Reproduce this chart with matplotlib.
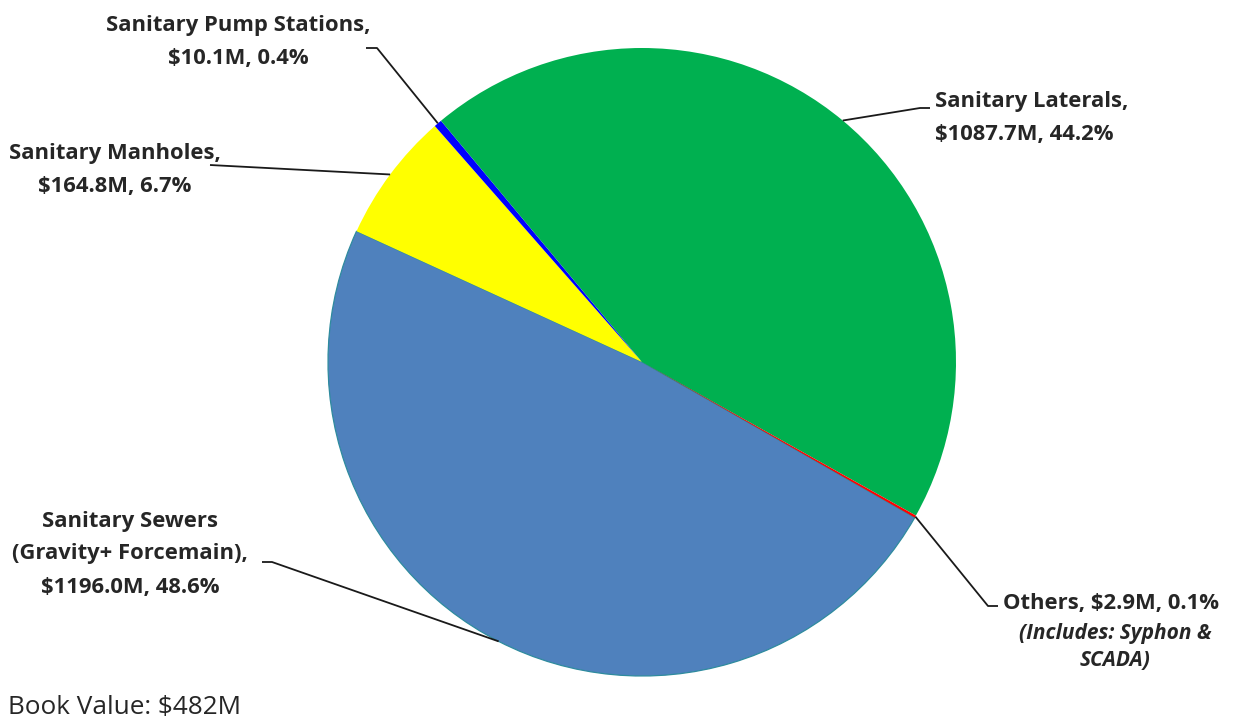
import matplotlib

matplotlib.use("Agg")
import matplotlib.pyplot as plt
import numpy as np

# slices in clockwise order, as drawn
names = ["Sanitary Sewers\n(Gravity+ Forcemain),", "Sanitary Manholes,",
         "Sanitary Pump Stations,", "Sanitary Laterals,", "Others,"]
values_m = [1196.0, 164.8, 10.1, 1087.7, 2.9]
colors = ["#4F81BD", "#FFFF00", "#0000FF", "#00B050", "#FF0000"]
book_value = "Book Value: $482M"
others_note = "(Includes: Syphon &\nSCADA)"

W, H = 1239, 721
CX, CY, R = 642, H - 362, 314
START = 330.3

plt.rcParams["font.family"] = ["Open Sans", "DejaVu Sans"]
fig = plt.figure(figsize=(W / 100, H / 100), dpi=100)
ax = fig.add_axes([0, 0, 1, 1])

explode = [0, 0, 0.015, 0, 0.015]
wedges, _ = ax.pie(values_m, colors=colors, startangle=START, counterclock=False,
                   center=(CX, CY), radius=R, explode=explode, frame=True,
                   wedgeprops=dict(linewidth=0))
wedges[0].set_edgecolor("#2E8B9E")
wedges[0].set_linewidth(0.9)
ax.set_xlim(0, W)
ax.set_ylim(0, H)
ax.set_aspect("equal")
ax.axis("off")

total = sum(values_m)
pct = [v / total * 100 for v in values_m]
labels = [f"{n}\n${v:.1f}M, {p:.1f}%" if i != 4 else f"{n} ${v:.1f}M, {p:.1f}%"
          for i, (n, v, p) in enumerate(zip(names, values_m, pct))]

# layout: elbow point (pixels, y down), stub length, text anchor, alignment
layout = [
    dict(elbow=(272, 562), stub=-10, text=(130, 554), ha="center"),
    dict(elbow=(210, 165), stub=0, text=(115, 170), ha="center"),
    dict(elbow=(377, 48), stub=-11, text=(238, 42), ha="center"),
    dict(elbow=(920, 108), stub=10, text=(935, 118), ha="left"),
    dict(elbow=(988, 606), stub=10, text=(1003, 603), ha="left"),
]

for w, lay, lab in zip(wedges, layout, labels):
    mid = np.deg2rad((w.theta1 + w.theta2) / 2)
    cx, cy = w.center
    ax_pt = (cx + w.r * np.cos(mid), cy + w.r * np.sin(mid))
    ex, ey = lay["elbow"][0], H - lay["elbow"][1]
    xs = [ax_pt[0], ex, ex + lay["stub"]]
    ys = [ax_pt[1], ey, ey]
    ax.plot(xs, ys, color="#1a1a1a", lw=1.3, solid_capstyle="butt")
    tx, ty = lay["text"][0], H - lay["text"][1]
    ax.text(tx, ty, lab, ha=lay["ha"], va="center", fontsize=15.8,
            fontweight="bold", color="#262626", linespacing=1.75,
            multialignment="center" if lay["ha"] == "center" else "left")

ax.text(1115, H - 647, others_note, ha="center", va="center", fontsize=15,
        fontweight="bold", style="italic", color="#262626", linespacing=1.4)
ax.text(8, H - 707, book_value, ha="left", va="center", fontsize=18.8,
        color="#262626")

fig.savefig("out.png", dpi=100)
